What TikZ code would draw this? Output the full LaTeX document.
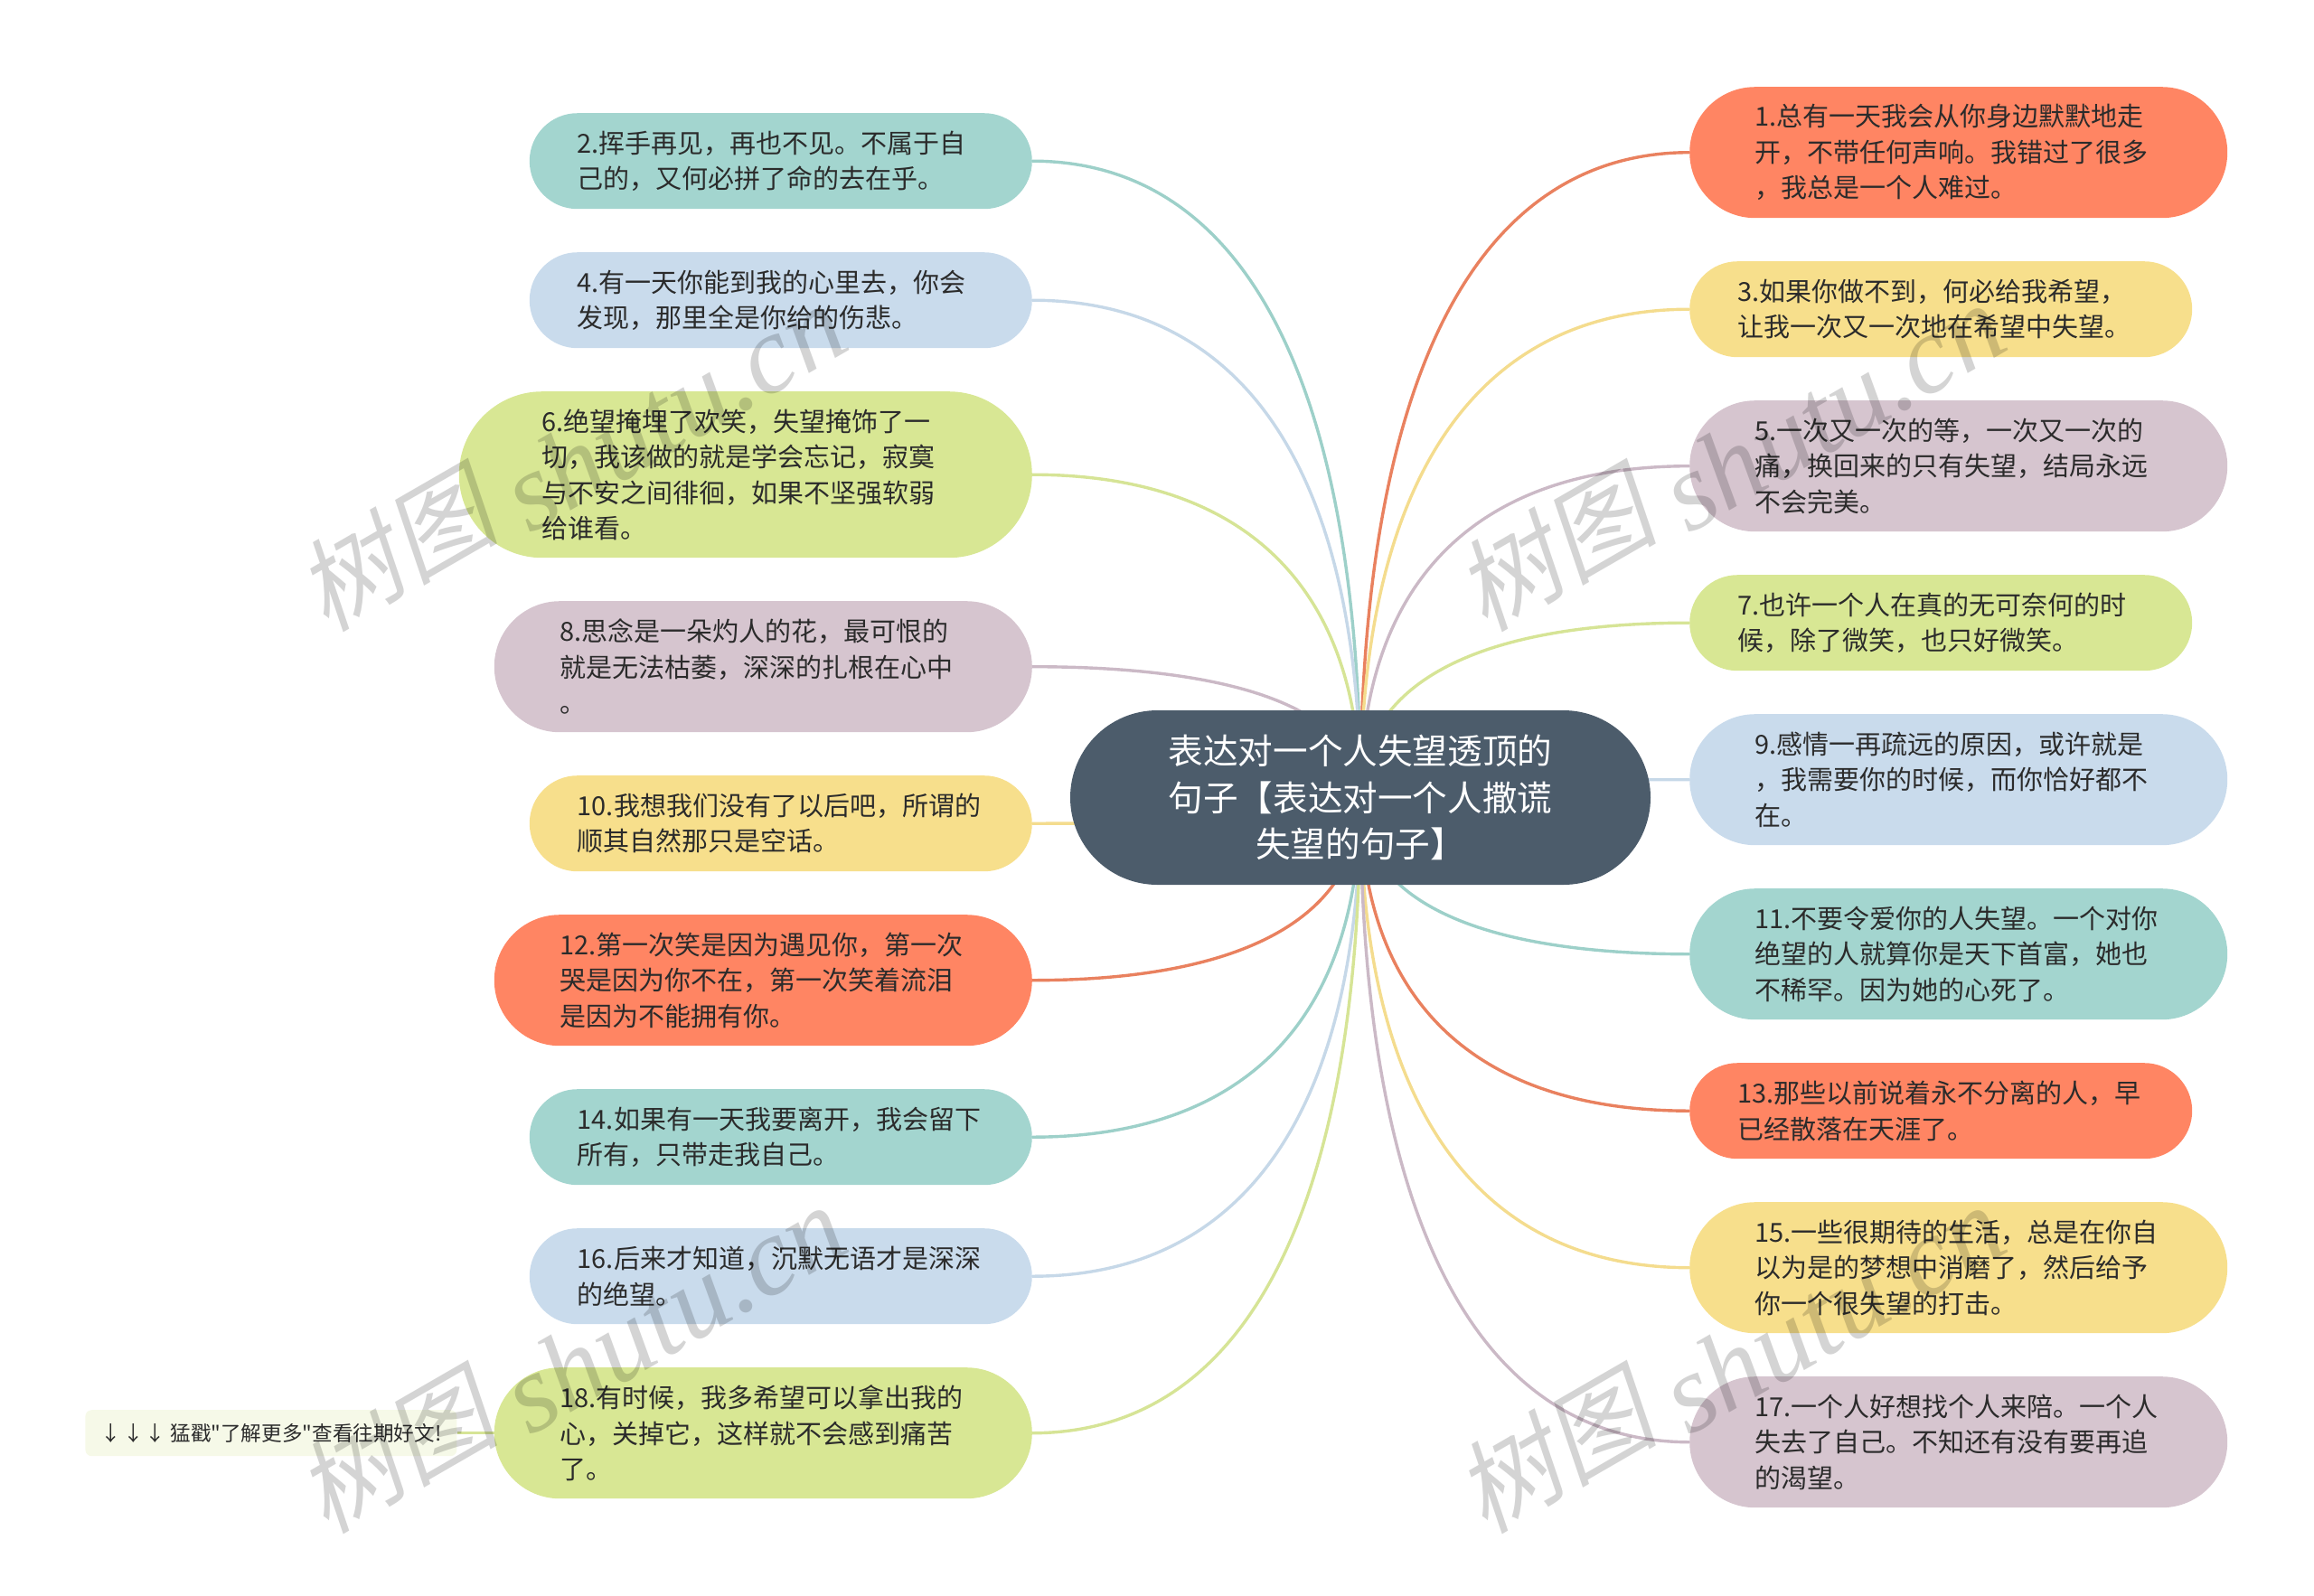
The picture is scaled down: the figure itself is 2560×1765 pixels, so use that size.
\documentclass[tikz,border=0pt]{standalone}
\usepackage{fontspec}
\setmainfont{Noto Sans CJK SC}
\newfontfamily\notefont{Noto Sans CJK SC}
\newfontfamily\wmcjk[FakeSlant=0.2]{Noto Sans CJK SC}
\newfontfamily\wmlat{Liberation Serif}
\usetikzlibrary{positioning,calc,backgrounds}

\definecolor{fteal}{HTML}{A3D5CF}
\definecolor{fblue}{HTML}{C9DBEC}
\definecolor{flime}{HTML}{D8E794}
\definecolor{fmauve}{HTML}{D6C5CF}
\definecolor{fsand}{HTML}{F7DF8C}
\definecolor{fcoral}{HTML}{FF8563}
\definecolor{lteal}{HTML}{9DD0C9}
\definecolor{lblue}{HTML}{C6D8E8}
\definecolor{llime}{HTML}{D6E496}
\definecolor{lmauve}{HTML}{CBB9C6}
\definecolor{lsand}{HTML}{F4DC8E}
\definecolor{lcoral}{HTML}{E9815F}
\definecolor{rootfill}{HTML}{4C5C6B}
\definecolor{notefill}{HTML}{F6F9E8}
\definecolor{textdark}{HTML}{2B2B2B}

\begin{document}
\begin{tikzpicture}[x=1pt,y=-1pt]
    \tikzstyle{pill} = [rectangle,text width=450pt,inner ysep=0pt,align=left,
        text=textdark,font=\fontsize{29}{39.4}\selectfont]
    \tikzstyle{h2} = [minimum height=106pt,inner xsep=53pt,rounded corners=53pt]
    \tikzstyle{h3} = [minimum height=145pt,inner xsep=72.5pt,rounded corners=72.5pt]
    \tikzstyle{h4} = [minimum height=184pt,inner xsep=92pt,rounded corners=92pt]
    \tikzstyle{link} = [line width=3.4pt]
    \tikzstyle{wmark} = [rotate=30,text=black,text opacity=0.17,inner sep=0pt]

    \useasboundingbox (0,0) rectangle (2560,1765);

    \node[rectangle,rounded corners=96.5pt,fill=rootfill,text=white,text width=449pt,inner xsep=96.5pt,inner ysep=0pt,
        minimum height=193pt,align=center,font=\fontsize{38.6}{51.6}\selectfont] (root) at (1505,882.5)
        {表达对一个人失望透顶的\\句子【表达对一个人撒谎\\失望的句子】};

    \matrix (leftcol) [anchor=north east,inner sep=0pt,row sep=48pt,nodes={pill,anchor=east}] at (1142,125) {
    \node[h2,fill=fteal] (n2) {2.挥手再见，再也不见。不属于自\\己的，又何必拼了命的去在乎。};
    \\
    \node[h2,fill=fblue] (n4) {4.有一天你能到我的心里去，你会\\发现，那里全是你给的伤悲。};
    \\
    \node[h4,fill=flime] (n6) {6.绝望掩埋了欢笑，失望掩饰了一\\切，我该做的就是学会忘记，寂寞\\与不安之间徘徊，如果不坚强软弱\\给谁看。};
    \\
    \node[h3,fill=fmauve] (n8) {8.思念是一朵灼人的花，最可恨的\\就是无法枯萎，深深的扎根在心中\\。};
    \\
    \node[h2,fill=fsand] (n10) {10.我想我们没有了以后吧，所谓的\\顺其自然那只是空话。};
    \\
    \node[h3,fill=fcoral] (n12) {12.第一次笑是因为遇见你，第一次\\哭是因为你不在，第一次笑着流泪\\是因为不能拥有你。};
    \\
    \node[h2,fill=fteal] (n14) {14.如果有一天我要离开，我会留下\\所有，只带走我自己。};
    \\
    \node[h2,fill=fblue] (n16) {16.后来才知道，沉默无语才是深深\\的绝望。};
    \\
    \node[h3,fill=flime] (n18) {18.有时候，我多希望可以拿出我的\\心，关掉它，这样就不会感到痛苦\\了。};
    \\
    };

    \matrix (rightcol) [anchor=north west,inner sep=0pt,row sep=48pt,nodes={pill,anchor=west}] at (1869,96) {
    \node[h3,fill=fcoral] (n1) {1.总有一天我会从你身边默默地走\\开，不带任何声响。我错过了很多\\，我总是一个人难过。};
    \\
    \node[h2,fill=fsand] (n3) {3.如果你做不到，何必给我希望，\\让我一次又一次地在希望中失望。};
    \\
    \node[h3,fill=fmauve] (n5) {5.一次又一次的等，一次又一次的\\痛，换回来的只有失望，结局永远\\不会完美。};
    \\
    \node[h2,fill=flime] (n7) {7.也许一个人在真的无可奈何的时\\候，除了微笑，也只好微笑。};
    \\
    \node[h3,fill=fblue] (n9) {9.感情一再疏远的原因，或许就是\\，我需要你的时候，而你恰好都不\\在。};
    \\
    \node[h3,fill=fteal] (n11) {11.不要令爱你的人失望。一个对你\\绝望的人就算你是天下首富，她也\\不稀罕。因为她的心死了。};
    \\
    \node[h2,fill=fcoral] (n13) {13.那些以前说着永不分离的人，早\\已经散落在天涯了。};
    \\
    \node[h3,fill=fsand] (n15) {15.一些很期待的生活，总是在你自\\以为是的梦想中消磨了，然后给予\\你一个很失望的打击。};
    \\
    \node[h3,fill=fmauve] (n17) {17.一个人好想找个人来陪。一个人\\失去了自己。不知还有没有要再追\\的渴望。};
    \\
    };

    \node[rectangle,rounded corners=7pt,fill=notefill,text=textdark,minimum width=411pt,minimum height=51pt,
        inner sep=0pt,font=\notefont\fontsize{22.6}{26}\selectfont,left=41pt of n18] (more) {↓\kern-3pt{} ↓\kern-3pt{} ↓ 猛戳"了解更多"查看往期好文!};

    \begin{scope}[on background layer]
    \foreach \n/\c in {n2/lteal,n4/lblue,n6/llime,n8/lmauve,n10/lsand,n12/lcoral,n14/lteal,n16/lblue,n18/llime}
        \draw[link,\c] (\n.east) .. controls ($(\n.east)!.65!(root.center |- \n.east)$)
            and ($(root.center)!.65!(root.center |- \n.east)$) .. (root.center);
    \foreach \n/\c in {n1/lcoral,n3/lsand,n5/lmauve,n7/llime,n9/lblue,n11/lteal,n13/lcoral,n15/lsand,n17/lmauve}
        \draw[link,\c] (\n.west) .. controls ($(\n.west)!.65!(root.center |- \n.west)$)
            and ($(root.center)!.65!(root.center |- \n.west)$) .. (root.center);
    \draw[link,llime] (n18.west) -- (more.east);
    \end{scope}

    \foreach \i/\x/\y in {1/630/503,2/1912/503,3/630/1501,4/1912/1501}
        \node[wmark] (wm\i) at (\x,\y) {\fontsize{112}{120}\selectfont\wmcjk 树图 \fontsize{123}{140}\selectfont\wmlat\itshape\raisebox{-18pt}{shutu.cn}};
\end{tikzpicture}
\end{document}
